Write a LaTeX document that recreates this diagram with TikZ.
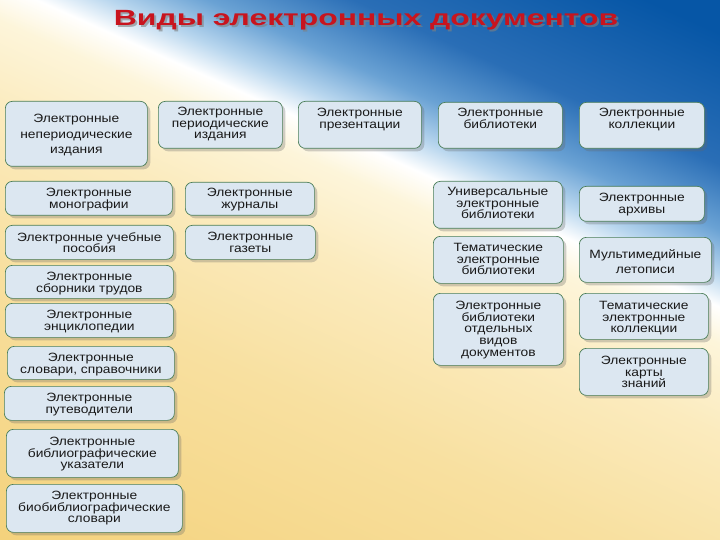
\documentclass[tikz,border=0pt]{standalone}
\usepackage{fontspec}
\usetikzlibrary{shadows}
\newfontfamily\boxfont[FakeStretch=1.15]{Liberation Sans}
\newfontfamily\titlefont[FakeStretch=1.45]{Liberation Sans}
\definecolor{bgA}{HTML}{F3CC6E}
\definecolor{bgB}{HTML}{F4D27C}
\definecolor{bgC}{HTML}{F8E0A0}
\definecolor{bgD}{HTML}{FBEBBE}
\definecolor{bgE}{HTML}{FDF5DA}
\definecolor{bgF}{HTML}{B8D6EE}
\definecolor{bgG}{HTML}{6AA2D4}
\definecolor{bgH}{HTML}{2A6EB6}
\definecolor{bgI}{HTML}{0656A6}
\definecolor{boxfill}{HTML}{DCE7F1}
\definecolor{boxline}{HTML}{4A7D58}
\definecolor{titlered}{HTML}{C8141E}
\pgfdeclareverticalshading{slidebg}{100bp}{color(0bp)=(bgA); color(30.4bp)=(bgB);
  color(42.9bp)=(bgC); color(49.9bp)=(bgD); color(54bp)=(bgE); color(55.7bp)=(white);
  color(57.2bp)=(bgF); color(59.2bp)=(bgG); color(62.2bp)=(bgH); color(68.2bp)=(bgI);
  color(100bp)=(bgI)}
\begin{document}
\begin{tikzpicture}[
      x=1pt, y=-1pt,
      docbox/.style={draw=boxline, line width=0.7pt, fill=boxfill,
                     rounded corners=7pt, inner sep=0pt,
                     drop shadow={shadow xshift=3pt, shadow yshift=-3pt,
                                  opacity=0.3, fill=black!60}},
      boxtext/.style={inner sep=0pt, align=center, text=black!90,
                      font=\boxfont\fontsize{12}{11.7}\selectfont}
    ]
      \useasboundingbox (0,0) rectangle (720,540);
      % slide background
      \begin{scope}
        \clip (0,0) rectangle (720,540);
        \begin{scope}[transform canvas={rotate around={-24.2:(360,270)}}]
          \shade[shading=slidebg] (-140,-230) rectangle (860,770);
        \end{scope}
      \end{scope}
      % title
      \node[anchor=base, text=black!50, opacity=0.6,
            font=\titlefont\bfseries\fontsize{22}{24}\selectfont]
        (title-sh) at (368,28) {Виды электронных документов};
      \node[anchor=base, text=titlered,
            font=\titlefont\bfseries\fontsize{22}{24}\selectfont]
        (title) at (366,26) {Виды электронных документов};
      % boxes: name / x / y / width / height / text offset / text
      \foreach \nm/\bx/\by/\bw/\bh/\ty/\txt in {
          neper/5/101/142/65/13/{Электронные\\[4pt]непериодические\\[4pt]издания},
          period/158/101/124/47/6/{Электронные\\периодические\\издания},
          pres/298/101/123/47/7/{Электронные\\презентации},
          bibl/438/102/124/46/6/{Электронные\\библиотеки},
          koll/579/102/125/46/6/{Электронные\\коллекции},
          mono/5/181/167/34/7/{Электронные\\монографии},
          zhurn/185/182/129/33/6/{Электронные\\журналы},
          univ/433/181/129/47/6/{Универсальные\\электронные\\библиотеки},
          arch/579/186/125/35/7/{Электронные\\архивы},
          ucheb/5/225/168/34/7/{Электронные учебные\\пособия},
          gazety/185/225/130/34/7/{Электронные\\газеты},
          tembibl/433/236/130/47/7/{Тематические\\электронные\\библиотеки},
          multi/579/237/132/45/12/{Мультимедийные\\[4pt]летописи},
          sborn/5/265/168/33/7/{Электронные\\сборники трудов},
          otdel/433/293/130/72/8/{Электронные\\библиотеки\\отдельных\\видов\\документов},
          temkoll/579/293/129/46/8/{Тематические\\электронные\\коллекции},
          enc/5/303/168/34/7/{Электронные\\энциклопедии},
          slov/7/346/167/33/7/{Электронные\\словари, справочники},
          karty/579/348/129/47/8/{Электронные\\карты\\знаний},
          putev/4/386/170/34/7/{Электронные\\путеводители},
          bibukaz/6/429/172/48/8/{Электронные\\библиографические\\указатели},
          biobib/6/484/176/48/7/{Электронные\\биобиблиографические\\словари}} {
        \node[docbox, minimum width=\bw, minimum height=\bh, anchor=north west]
          (\nm) at (\bx,\by) {};
        \node[boxtext, anchor=north] (\nm-t) at ([yshift=-\ty]\nm.north) {\txt};
      }
    \end{tikzpicture}
\end{document}
